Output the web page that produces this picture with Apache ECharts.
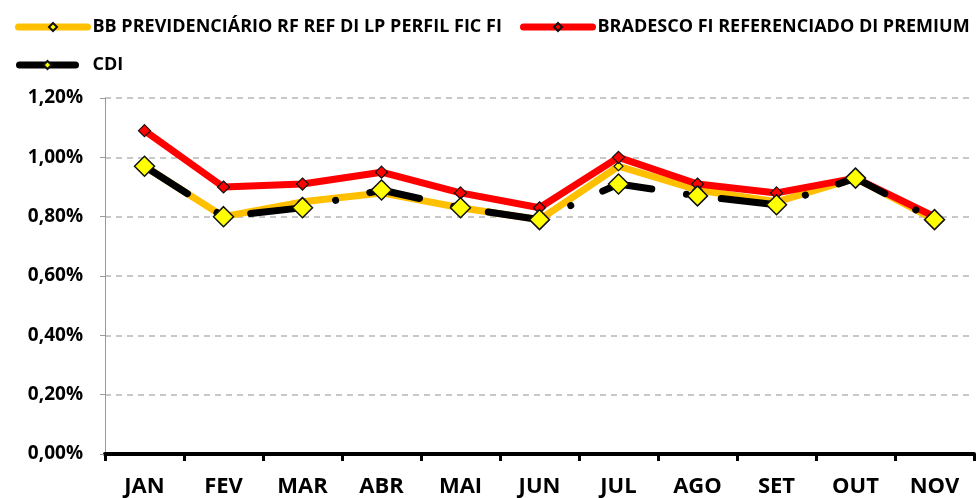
<!DOCTYPE html>
<html><head><meta charset="utf-8">
<script src="https://cdn.jsdelivr.net/npm/echarts@6/dist/echarts.min.js"></script>
<style>html,body{margin:0;padding:0;background:#fff}#c{width:979px;height:498px}</style>
</head><body><div id="c"></div>
<script>
const categories = ['JAN','FEV','MAR','ABR','MAI','JUN','JUL','AGO','SET','OUT','NOV'];
const bbValues = [0.97, 0.80, 0.85, 0.88, 0.83, 0.79, 0.97, 0.89, 0.85, 0.93, 0.79];
const bradescoValues = [1.09, 0.90, 0.91, 0.95, 0.88, 0.83, 1.00, 0.91, 0.88, 0.93, 0.80];
const cdiValues = [0.97, 0.80, 0.83, 0.89, 0.83, 0.79, 0.91, 0.87, 0.84, 0.93, 0.79];
const yTicks = [0, 0.2, 0.4, 0.6, 0.8, 1.0, 1.2];

const FONT = '"Open Sans", sans-serif';
const names = ['BB PREVIDENCIÁRIO RF REF DI LP PERFIL FIC FI','BRADESCO FI REFERENCIADO DI PREMIUM','CDI'];
const legendText = {color:'#000', fontFamily: FONT, fontWeight:'bold', fontSize:18};
const legendBase = {itemHeight:10, padding:0, textStyle:legendText,
  lineStyle:{width:7, cap:'round', type:'solid'}};
const chart = echarts.init(document.getElementById('c'));
chart.setOption({
  animation:false,
  legend:[
    Object.assign({data:[names[0]], left:15, top:18, itemWidth:69}, legendBase),
    Object.assign({data:[names[1]], left:520, top:18, itemWidth:69}, legendBase),
    Object.assign({}, legendBase, {data:[names[2]], left:16, top:56, itemWidth:56,
      textStyle:Object.assign({},legendText,{padding:[0,0,0,12]})})
  ],
  grid:{left:105, right:5, top:98, bottom:42},
  xAxis:{type:'category', data:categories, boundaryGap:true,
    axisLine:{lineStyle:{color:'#000', width:4}},
    axisTick:{show:true, length:7, lineStyle:{color:'#000', width:3}},
    axisLabel:{color:'#000', fontFamily:FONT, fontWeight:'bold', fontSize:22, margin:22}},
  yAxis:{type:'value', min:0, max:1.2, interval:0.2,
    axisLine:{show:true, lineStyle:{color:'#999', width:1}},
    axisTick:{show:true, length:5, lineStyle:{color:'#999'}},
    splitLine:{lineStyle:{color:'#c8c8c8', type:[6,5], width:2}},
    axisLabel:{color:'#000', fontFamily:FONT, fontWeight:'bold', fontSize:19, margin:22,
      formatter:v=>v.toFixed(2).replace('.',',')+'%'}},
  series:[
    {name:names[0], type:'line', data:bbValues, symbol:'diamond', symbolSize:9,
      lineStyle:{color:'#ffc000', width:7, cap:'round', join:'round'},
      itemStyle:{color:'#ffff00', borderColor:'#111', borderWidth:1.2}},
    {name:names[1], type:'line', data:bradescoValues, symbol:'diamond', symbolSize:12,
      lineStyle:{color:'#ff0000', width:7, cap:'round', join:'round'},
      itemStyle:{color:'#ff0000', borderColor:'#111', borderWidth:1.2}},
    {name:names[2], type:'line', data:cdiValues, symbol:'diamond', symbolSize:20,
      lineStyle:{color:'#000', width:7, type:[51,35,0.1,35], cap:'round'},
      itemStyle:{color:'#ffff00', borderColor:'#111', borderWidth:1.5}}
  ]
});
</script></body></html>
